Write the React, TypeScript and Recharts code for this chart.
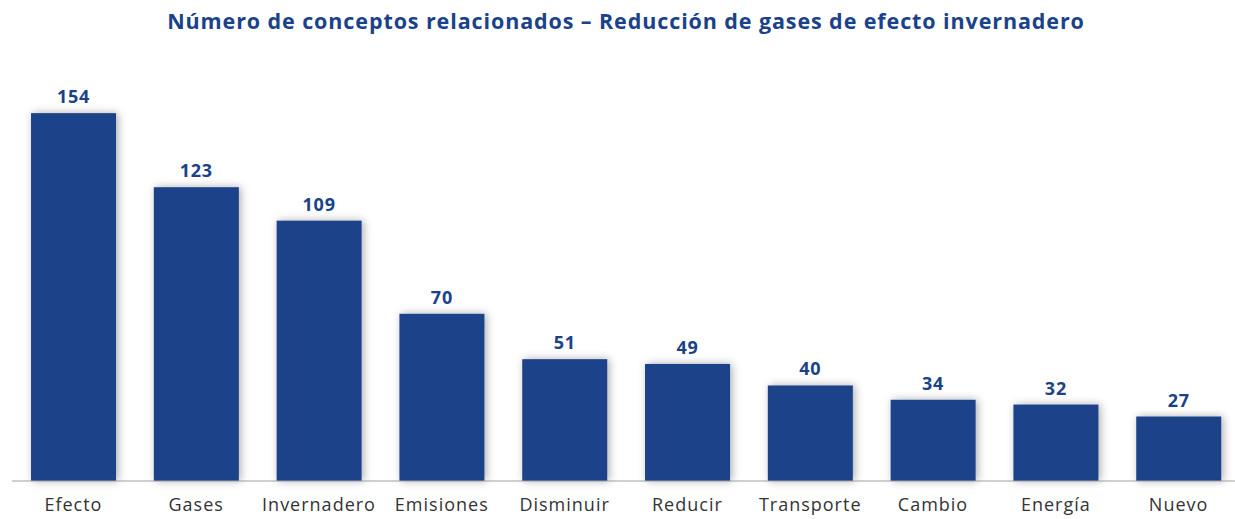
import React from "react";
import { BarChart, Bar, XAxis, YAxis, LabelList } from "recharts";

const categories = ["Efecto", "Gases", "Invernadero", "Emisiones", "Disminuir", "Reducir", "Transporte", "Cambio", "Energía", "Nuevo"];
const values = [154, 123, 109, 70, 51, 49, 40, 34, 32, 27];
const title = "Número de conceptos relacionados – Reducción de gases de efecto invernadero";

const data = categories.map((c, i) => ({ name: c, value: values[i] }));
const BLUE = "#1a428a";

const ShadowBar = (props: any) => {
  const { x, y, width, height } = props;
  return <rect x={x} y={y} width={width} height={height} fill={BLUE} filter="url(#barShadow)" />;
};

export default function App() {
  return (
    <div style={{ position: "absolute", left: 0, top: 0, width: 1235, height: 519, overflow: "hidden", background: "#fff" }}>
      <div
        style={{
          position: "absolute",
          left: 0,
          top: 6,
          width: 1252,
          textAlign: "center",
          fontFamily: "'Open Sans', sans-serif",
          fontWeight: 700,
          fontSize: 21.5,
          letterSpacing: 0.9,
          color: BLUE,
        }}
      >
        {title}
      </div>
      <BarChart
        width={1240}
        height={519}
        data={data}
        margin={{ top: 63, right: 0, bottom: 8, left: 12 }}
        barCategoryGap="15.5%"
      >
        <defs>
          <filter id="barShadow" x="-30%" y="-10%" width="160%" height="120%">
            <feDropShadow dx="2" dy="0" stdDeviation="4" floodColor="#000" floodOpacity="0.32" />
          </filter>
        </defs>
        <XAxis
          dataKey="name"
          height={30}
          interval={0}
          tickLine={false}
          axisLine={{ stroke: "#a0a0a0", strokeWidth: 1 }}
          tick={{ fill: "#333", fontSize: 18, letterSpacing: 1, fontFamily: "'Open Sans', sans-serif" }}
          tickMargin={11}
        />
        <YAxis hide domain={[0, 175]} />
        <Bar dataKey="value" isAnimationActive={false} shape={<ShadowBar />}>
          <LabelList
            dataKey="value"
            position="top"
            offset={10}
            fill={BLUE}
            fontSize={18}
            fontWeight={700}
            letterSpacing={0.8}
            fontFamily="'Open Sans', sans-serif"
          />
        </Bar>
      </BarChart>
    </div>
  );
}
